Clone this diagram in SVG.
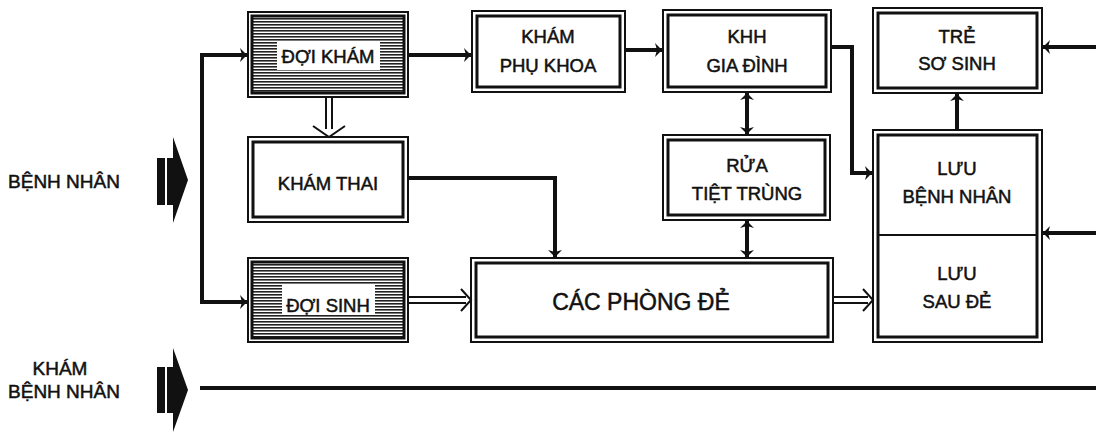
<svg xmlns="http://www.w3.org/2000/svg" width="1096" height="432" viewBox="0 0 1096 432">
<defs>
<pattern id="hatch" width="6" height="3" patternUnits="userSpaceOnUse">
<rect width="6" height="3" fill="#fff"/>
<rect width="6" height="1.6" fill="#222"/>
</pattern>
<marker id="ah" viewBox="-10 -8 12 16" markerWidth="12" markerHeight="16" refX="0" refY="0" orient="auto-start-reverse" markerUnits="userSpaceOnUse">
<path d="M-8,-7 L-3,-2 L0,-2 L0,2 L-3,2 L-8,7 L-6,0 Z" fill="#111"/>
</marker>
</defs>
<style>
.o{fill:#fff;stroke:#111;stroke-width:2}
.i{fill:none;stroke:#111;stroke-width:3}
.t{font-family:"Liberation Sans",Arial,sans-serif;font-size:18.5px;fill:#111;stroke:#111;stroke-width:0.5;text-anchor:middle}
.big{font-size:23px}
.l{font-size:19px}
.c{fill:none;stroke:#111;stroke-width:4}
.h{fill:none;stroke:#111;stroke-width:2}
</style>
<rect width="1096" height="432" fill="#fff"/>

<g id="benh-nhan-in">
<text class="t l" x="64" y="188">BỆNH NHÂN</text>
<rect x="157" y="158" width="8" height="47" fill="#111"/>
<path d="M167,158 H173 V137 L188,180 L173,223 V205 H167 Z" fill="#111"/>
</g>

<g id="kham-benh-nhan">
<text class="t l" x="60" y="375">KHÁM</text>
<text class="t l" x="64" y="398">BỆNH NHÂN</text>
<rect x="157" y="367" width="8" height="46" fill="#111"/>
<path d="M167,367 H173 V348 L188,390 L173,432 V413 H167 Z" fill="#111"/>
</g>

<g id="doi-kham">
<rect class="o" x="248" y="12" width="160" height="85"/>
<rect x="252" y="16" width="152" height="77" fill="url(#hatch)" stroke="#111" stroke-width="3"/>
<rect x="277" y="42" width="103" height="28" fill="#fff"/>
<text class="t" x="328" y="63">ĐỢI KHÁM</text>
</g>

<g id="kham-thai">
<rect class="o" x="248" y="137" width="160" height="85"/>
<rect class="i" x="253" y="142" width="150" height="75"/>
<text class="t" x="328" y="190">KHÁM THAI</text>
</g>

<g id="doi-sinh">
<rect class="o" x="248" y="258" width="160" height="84"/>
<rect x="252" y="262" width="152" height="76" fill="url(#hatch)" stroke="#111" stroke-width="3"/>
<rect x="282" y="284" width="93" height="31" fill="#fff"/>
<text class="t" x="328" y="312">ĐỢI SINH</text>
</g>

<g id="kham-phu-khoa">
<rect class="o" x="472" y="11" width="153" height="81"/>
<rect class="i" x="477" y="16" width="143" height="71"/>
<text class="t" x="548" y="43">KHÁM</text>
<text class="t" x="548" y="72">PHỤ KHOA</text>
</g>

<g id="khh-gia-dinh">
<rect class="o" x="663" y="10" width="168" height="82"/>
<rect class="i" x="668" y="15" width="158" height="72"/>
<text class="t" x="747" y="43">KHH</text>
<text class="t" x="747" y="72">GIA ĐÌNH</text>
</g>

<g id="rua-tiet-trung">
<rect class="o" x="663" y="135" width="167" height="85"/>
<rect class="i" x="668" y="140" width="157" height="75"/>
<text class="t" x="747" y="172">RỬA</text>
<text class="t" x="747" y="200">TIỆT TRÙNG</text>
</g>

<g id="cac-phong-de">
<rect class="o" x="471" y="258" width="362" height="84"/>
<rect class="i" x="476" y="263" width="352" height="74"/>
<text class="t big" x="641" y="310">CÁC PHÒNG ĐẺ</text>
</g>

<g id="tre-so-sinh">
<rect class="o" x="873" y="8" width="169" height="85"/>
<rect class="i" x="878" y="13" width="159" height="75"/>
<text class="t" x="957" y="43">TRẺ</text>
<text class="t" x="957" y="70">SƠ SINH</text>
</g>

<g id="luu">
<rect class="o" x="873" y="130" width="169" height="212"/>
<rect class="i" x="878" y="135" width="159" height="202"/>
<line x1="878" y1="235" x2="1037" y2="235" stroke="#111" stroke-width="2"/>
<text class="t" x="957" y="175">LƯU</text>
<text class="t" x="957" y="203">BỆNH NHÂN</text>
<text class="t" x="957" y="280">LƯU</text>
<text class="t" x="957" y="308">SAU ĐẺ</text>
</g>

<g id="connectors">
<path class="c" d="M202,120 V55 H248" marker-end="url(#ah)"/>
<path class="c" d="M202,120 V302 H248" marker-end="url(#ah)"/>
<path class="c" d="M408,55 H472" marker-end="url(#ah)"/>
<path class="c" d="M625,50 H663" marker-end="url(#ah)"/>
<path class="c" d="M747,92 V135" marker-start="url(#ah)" marker-end="url(#ah)"/>
<path class="c" d="M747,220 V258" marker-start="url(#ah)" marker-end="url(#ah)"/>
<path class="c" d="M831,47 H852 V173 H873" marker-end="url(#ah)"/>
<path class="c" d="M408,178 H555 V258" marker-end="url(#ah)"/>
<path class="c" d="M957,130 V93" marker-end="url(#ah)"/>
<path class="c" d="M1096,47 H1042" marker-end="url(#ah)"/>
<path class="c" d="M1096,233 H1042" marker-end="url(#ah)"/>
<path class="c" d="M200,388 H1096"/>
<path class="h" d="M326,97 V129 M332,97 V129 M313,126 L329,137 L345,126"/>
<path class="h" d="M408,297 H466 M408,303 H466 M461,289 L471,300 L461,311"/>
<path class="h" d="M833,297 H868 M833,303 H868 M863,289 L873,300 L863,311"/>
</g>
</svg>
